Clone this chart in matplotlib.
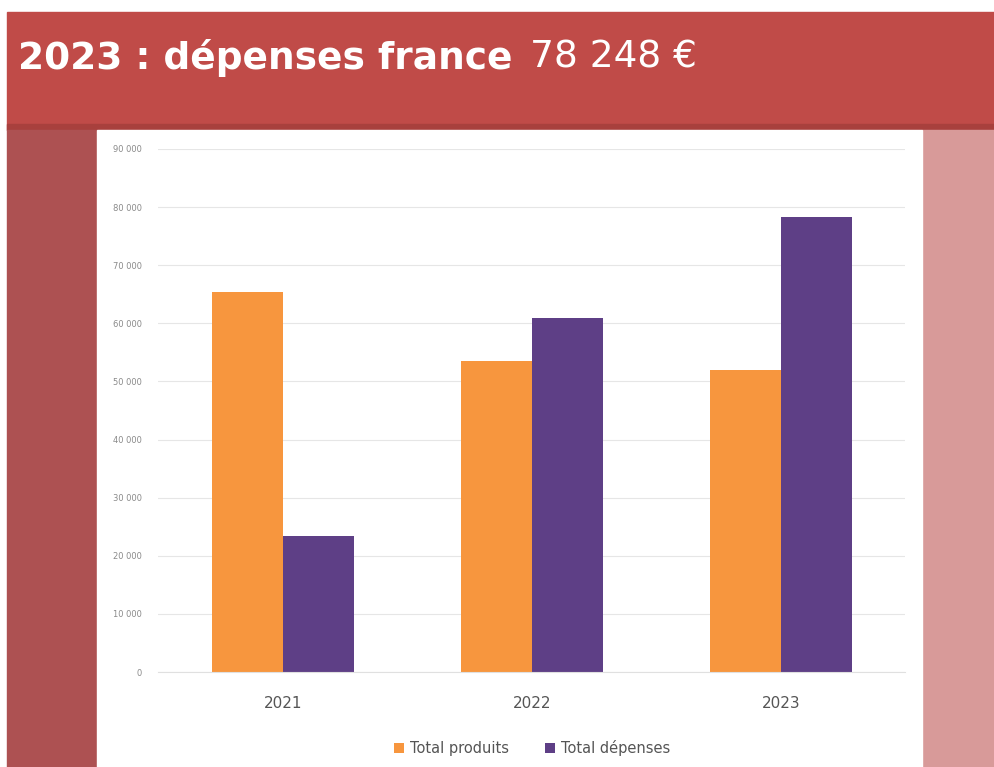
import matplotlib.pyplot as plt
from matplotlib.patches import Rectangle
import numpy as np

years = ["2021", "2022", "2023"]
produits = [65400, 53500, 52000]
depenses = [23400, 60900, 78248]
yticks = [0, 10000, 20000, 30000, 40000, 50000, 60000, 70000, 80000, 90000]
ytick_labels = ["0", "10 000", "20 000", "30 000", "40 000", "50 000",
                "60 000", "70 000", "80 000", "90 000"]

W, H = 995, 767
fig = plt.figure(figsize=(W / 100, H / 100), dpi=100)
fig.patch.set_facecolor("white")


def px_rect(x0, y0, x1, y1, color):
    # rectangle in pixel coords, y from top
    fig.patches.append(Rectangle((x0 / W, 1 - y1 / H), (x1 - x0) / W, (y1 - y0) / H,
                                 transform=fig.transFigure, color=color, zorder=-5))


# slide background
px_rect(7, 12, W, 130, "#c04b48")
px_rect(7, 124, W, 130, "#a8403d")
px_rect(7, 130, 97, H, "#ad5152")
px_rect(922, 130, W, H, "#d89a99")
px_rect(97, 130, 922, H, "white")

t1 = fig.text(18 / W, 1 - 58 / H, "2023 : dépenses france", color="white",
              fontsize=27, fontweight="bold", va="center", ha="left")
fig.canvas.draw()
bb = t1.get_window_extent()
fig.text((bb.x1 + 18) / W, 1 - 58 / H, "78 248 €", color="white",
         fontsize=27, va="center", ha="left")

ax = fig.add_axes([158.5 / W, 1 - 672 / H, (905.5 - 158.5) / W, (672 - 149) / H])
ax.set_facecolor("white")
x = np.arange(len(years))
w = 0.285
ax.bar(x - w / 2, produits, w, color="#f7963e", label="Total produits", zorder=2)
ax.bar(x + w / 2, depenses, w, color="#5e3f86", label="Total dépenses", zorder=2)

ax.set_xlim(-0.5, 2.5)
ax.set_ylim(0, 90000)
ax.set_yticks(yticks)
ax.set_yticklabels(ytick_labels, fontsize=6, color="#8a8a8a")
ax.set_xticks(x)
ax.set_xticklabels(years, fontsize=11, color="#555555")
ax.tick_params(axis="both", length=0)
ax.tick_params(axis="y", pad=12)
ax.tick_params(axis="x", pad=17)
ax.grid(axis="y", color="#e6e6e6", linewidth=0.8, zorder=0)
for s in ["top", "right", "left"]:
    ax.spines[s].set_visible(False)
ax.spines["bottom"].set_color("#e0e0e0")

ax.legend(loc="upper center", bbox_to_anchor=(0.5, -0.105), ncol=2, frameon=False,
          fontsize=10.5, handlelength=0.7, handleheight=0.7, columnspacing=2.5,
          handletextpad=0.4, labelcolor="#555555")

fig.savefig("out.png", dpi=100)
